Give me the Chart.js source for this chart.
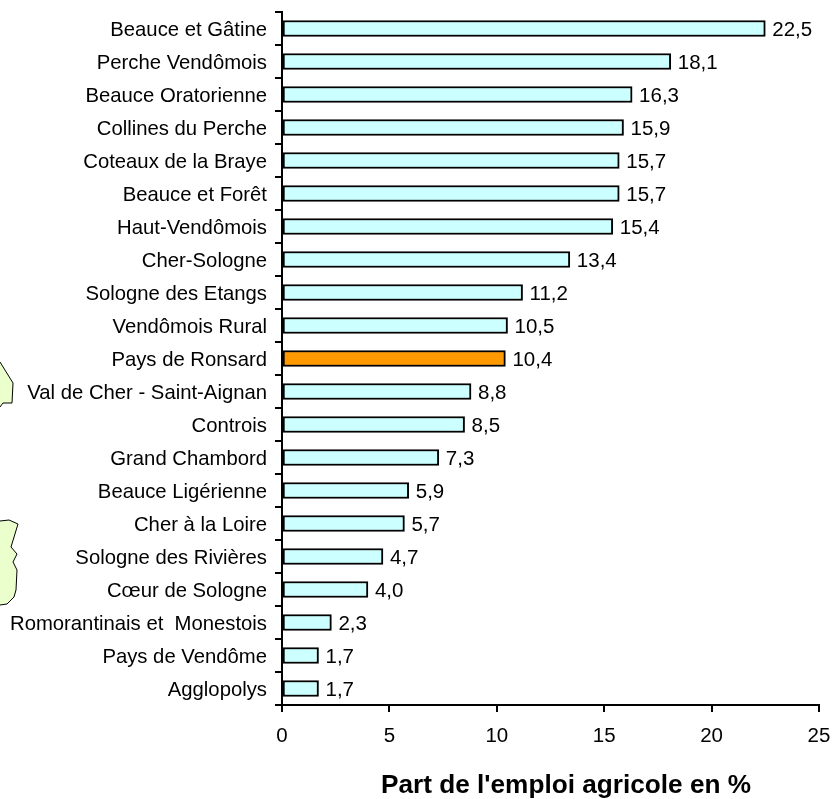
<!DOCTYPE html>
<html>
<head>
<meta charset="utf-8">
<title>Part de l'emploi agricole</title>
<script src="https://cdn.jsdelivr.net/npm/chart.js@4/dist/chart.umd.min.js"></script>
<style>
    html, body { margin: 0; padding: 0; background: #fff; }
    #wrap { position: relative; width: 833px; height: 799px; }
</style>
</head>
<body>
<div id="wrap"><canvas id="chart" width="833" height="799"></canvas></div>
<script>
var categories = [
    'Beauce et Gâtine', 'Perche Vendômois', 'Beauce Oratorienne', 'Collines du Perche',
    'Coteaux de la Braye', 'Beauce et Forêt', 'Haut-Vendômois', 'Cher-Sologne',
    'Sologne des Etangs', 'Vendômois Rural', 'Pays de Ronsard', 'Val de Cher - Saint-Aignan',
    'Controis', 'Grand Chambord', 'Beauce Ligérienne', 'Cher à la Loire',
    'Sologne des Rivières', 'Cœur de Sologne', 'Romorantinais et  Monestois',
    'Pays de Vendôme', 'Agglopolys'
];
var shares = [22.5, 18.1, 16.3, 15.9, 15.7, 15.7, 15.4, 13.4, 11.2, 10.5, 10.4, 8.8, 8.5, 7.3, 5.9, 5.7, 4.7, 4.0, 2.3, 1.7, 1.7];
var highlighted = 'Pays de Ronsard';
var xTicks = [0, 5, 10, 15, 20, 25];
var axisTitle = "Part de l'emploi agricole en %";

// bits of the map that stick out behind the labels in the original
var mapPieces = [
    [[0, 362], [13, 383], [12, 403], [3, 403], [0, 407]],
    [[0, 521], [9, 520], [18, 524], [11, 547], [17, 554], [13, 562], [17, 570], [16, 590], [14, 597], [7, 604], [0, 605]]
];

var FONT = '"Liberation Sans", Arial, sans-serif';

var backdrop = {
    id: 'backdrop',
    beforeDraw: function(chart) {
        var ctx = chart.ctx;
        ctx.save();
        ctx.fillStyle = '#eaffcc';
        ctx.strokeStyle = '#000';
        ctx.lineWidth = 1;
        mapPieces.forEach(function(piece) {
            ctx.beginPath();
            piece.forEach(function(p, i) {
                if (i) ctx.lineTo(p[0], p[1]); else ctx.moveTo(p[0], p[1]);
            });
            ctx.fill();
            ctx.stroke();
        });
        ctx.restore();
    }
};

var barLabels = {
    id: 'barLabels',
    afterDatasetsDraw: function(chart) {
        var ctx = chart.ctx;
        var bars = chart.getDatasetMeta(0).data;
        ctx.save();
        ctx.fillStyle = '#000';
        ctx.font = '20.5px ' + FONT;
        ctx.textAlign = 'left';
        ctx.textBaseline = 'middle';
        bars.forEach(function(bar, i) {
            ctx.fillText(shares[i].toFixed(1).replace('.', ','), bar.x + 7, bar.y + 2);
        });
        ctx.restore();
    }
};

var bottomTitle = {
    id: 'bottomTitle',
    afterDraw: function(chart) {
        var ctx = chart.ctx;
        ctx.save();
        ctx.fillStyle = '#000';
        ctx.font = 'bold 26.2px ' + FONT;
        ctx.textAlign = 'center';
        ctx.textBaseline = 'alphabetic';
        ctx.fillText(axisTitle, 566, 793);
        ctx.restore();
    }
};

new Chart(document.getElementById('chart'), {
    type: 'bar',
    data: {
        labels: categories,
        datasets: [{
            data: shares,
            backgroundColor: categories.map(function(c) {
                return c === highlighted ? '#ff9900' : '#ccffff';
            }),
            borderColor: '#000',
            borderWidth: 2,
            borderSkipped: false,
            barThickness: 16
        }]
    },
    options: {
        indexAxis: 'y',
        responsive: false,
        animation: false,
        layout: { padding: { left: 0, right: 14, top: 12, bottom: 0 } },
        plugins: { legend: { display: false }, tooltip: { enabled: false } },
        scales: {
            x: {
                min: 0,
                max: 25,
                afterBuildTicks: function(axis) {
                    axis.ticks = xTicks.map(function(v) { return { value: v }; });
                },
                // pin the plot area, otherwise the labels push it around
                afterFit: function(axis) {
                    axis.height = 94;
                    axis.paddingLeft = 0;
                    axis.paddingRight = 0;
                },
                grid: { drawOnChartArea: false, color: '#000', lineWidth: 2, tickLength: 7 },
                border: { color: '#000', width: 2 },
                ticks: { color: '#000', font: { family: FONT, size: 20.5 }, padding: 12, maxRotation: 0 }
            },
            y: {
                afterFit: function(axis) {
                    axis.width = 282;
                    axis.paddingTop = 0;
                    axis.paddingBottom = 0;
                },
                grid: { drawOnChartArea: false, color: '#000', lineWidth: 2, tickLength: 7, offset: true },
                border: { color: '#000', width: 2 },
                ticks: { color: '#000', font: { family: FONT, size: 20.3 }, padding: 8, labelOffset: 2, autoSkip: false }
            }
        }
    },
    plugins: [backdrop, barLabels, bottomTitle]
});
</script>
</body>
</html>
